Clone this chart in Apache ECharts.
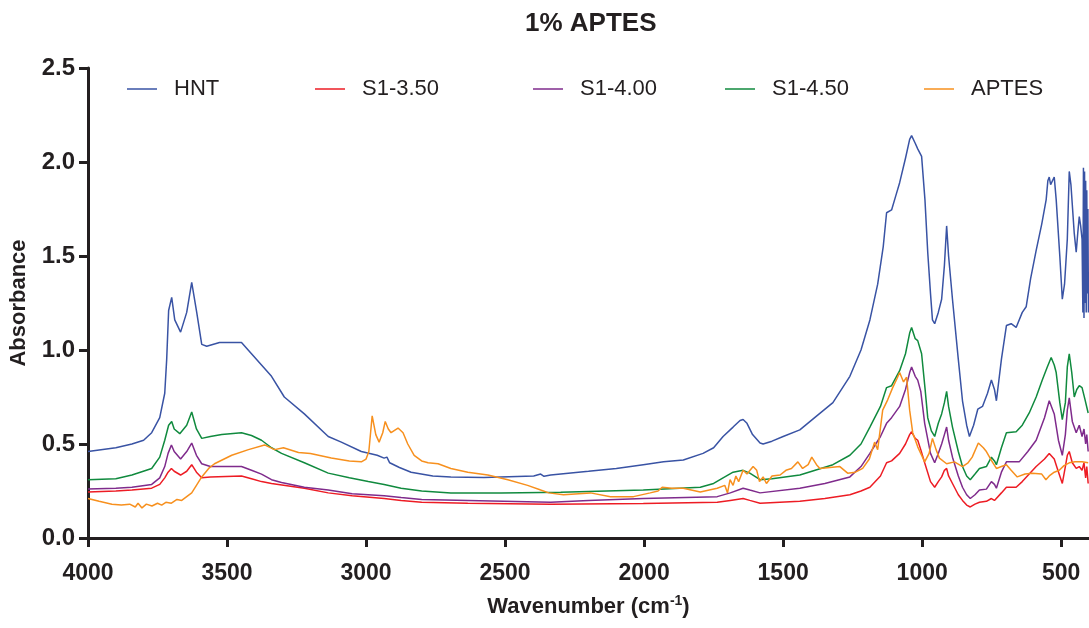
<!DOCTYPE html>
<html>
<head>
<meta charset="utf-8">
<title>1% APTES</title>
<script src="https://cdn.jsdelivr.net/npm/echarts@6/dist/echarts.min.js"></script>
<style>
    html, body {margin: 0; padding: 0; background: #fff;}
    #main {width: 1089px; height: 628px;}
</style>
</head>
<body>
<div id="main"></div>
<script>
// wavenumbers (cm-1) and absorbance
var hntWn = [4000, 3900, 3842, 3800, 3771, 3742, 3724, 3717, 3710, 3699, 3688, 3667, 3645, 3627, 3609, 3591, 3573, 3527, 3448, 3412, 3340, 3294, 3222, 3136, 3089, 3017, 2960, 2935, 2925, 2915, 2880, 2838, 2760, 2695, 2576, 2397, 2372, 2360, 2336, 2200, 2100, 2003, 1930, 1859, 1788, 1750, 1716, 1680, 1655, 1644, 1630, 1610, 1583, 1572, 1540, 1500, 1440, 1379, 1321, 1260, 1220, 1188, 1160, 1140, 1128, 1110, 1095, 1081, 1060, 1045, 1038, 1025, 1016, 1002, 990, 980, 970, 963, 955, 942, 930, 920, 912, 905, 891, 870, 855, 840, 830, 815, 800, 783, 765, 751, 740, 733, 715, 697, 680, 662, 640, 626, 610, 590, 570, 554, 548, 543, 538, 532, 525, 518, 505, 496, 488, 478, 471, 465, 453, 446, 440, 435, 430, 425, 422, 420, 418, 416, 414, 412, 410, 408, 406, 404, 402];
var hntAbs = [0.46, 0.48, 0.50, 0.52, 0.56, 0.64, 0.77, 0.95, 1.21, 1.28, 1.16, 1.095, 1.20, 1.36, 1.20, 1.03, 1.02, 1.04, 1.04, 0.98, 0.86, 0.75, 0.66, 0.54, 0.51, 0.46, 0.44, 0.425, 0.43, 0.40, 0.375, 0.35, 0.33, 0.325, 0.322, 0.33, 0.34, 0.328, 0.335, 0.355, 0.37, 0.39, 0.405, 0.415, 0.45, 0.48, 0.54, 0.59, 0.625, 0.63, 0.61, 0.55, 0.505, 0.50, 0.515, 0.54, 0.575, 0.65, 0.72, 0.86, 1.0, 1.16, 1.35, 1.55, 1.73, 1.745, 1.82, 1.89, 2.02, 2.12, 2.14, 2.10, 2.07, 2.03, 1.80, 1.52, 1.30, 1.16, 1.14, 1.20, 1.27, 1.45, 1.66, 1.50, 1.27, 0.95, 0.73, 0.60, 0.54, 0.60, 0.685, 0.70, 0.77, 0.84, 0.79, 0.73, 0.95, 1.13, 1.14, 1.12, 1.20, 1.23, 1.38, 1.53, 1.67, 1.80, 1.90, 1.92, 1.88, 1.87, 1.92, 1.80, 1.50, 1.27, 1.35, 1.59, 1.95, 1.88, 1.62, 1.52, 1.63, 1.71, 1.66, 1.59, 1.20, 1.97, 1.17, 1.95, 1.25, 1.90, 1.20, 1.85, 1.30, 1.75, 1.20];

var s350Wn = [4000, 3900, 3842, 3771, 3742, 3724, 3712, 3700, 3690, 3667, 3645, 3627, 3610, 3591, 3560, 3448, 3412, 3376, 3340, 3222, 3136, 3050, 2935, 2874, 2800, 2634, 2336, 2003, 1737, 1690, 1644, 1620, 1583, 1440, 1350, 1260, 1220, 1188, 1150, 1128, 1110, 1081, 1060, 1045, 1038, 1025, 1016, 1005, 991, 970, 955, 942, 930, 920, 912, 905, 891, 870, 855, 840, 827, 810, 794, 769, 751, 740, 733, 715, 697, 662, 640, 615, 590, 560, 543, 536, 525, 514, 496, 485, 478, 471, 460, 446, 435, 425, 418, 412, 408, 403];
var s350Abs = [0.245, 0.25, 0.255, 0.265, 0.285, 0.32, 0.35, 0.37, 0.355, 0.335, 0.355, 0.39, 0.35, 0.32, 0.325, 0.33, 0.315, 0.30, 0.29, 0.265, 0.24, 0.225, 0.21, 0.20, 0.19, 0.185, 0.18, 0.183, 0.19, 0.20, 0.21, 0.20, 0.185, 0.195, 0.21, 0.23, 0.25, 0.27, 0.33, 0.40, 0.41, 0.45, 0.50, 0.55, 0.565, 0.53, 0.52, 0.47, 0.40, 0.30, 0.27, 0.30, 0.325, 0.36, 0.37, 0.33, 0.29, 0.23, 0.20, 0.175, 0.165, 0.18, 0.19, 0.195, 0.21, 0.20, 0.19, 0.24, 0.27, 0.27, 0.30, 0.34, 0.38, 0.42, 0.45, 0.455, 0.42, 0.37, 0.29, 0.38, 0.44, 0.46, 0.40, 0.37, 0.38, 0.36, 0.40, 0.32, 0.38, 0.29];

var s400Wn = [4000, 3900, 3842, 3771, 3742, 3724, 3712, 3700, 3690, 3667, 3645, 3627, 3610, 3591, 3560, 3448, 3412, 3376, 3340, 3304, 3222, 3136, 3050, 2935, 2874, 2800, 2634, 2336, 2200, 2003, 1737, 1690, 1644, 1620, 1583, 1440, 1350, 1260, 1220, 1188, 1150, 1128, 1110, 1081, 1060, 1045, 1038, 1025, 1016, 1005, 991, 970, 955, 942, 930, 920, 912, 905, 891, 870, 855, 840, 827, 810, 794, 769, 751, 740, 733, 715, 697, 651, 620, 590, 560, 543, 536, 525, 510, 496, 485, 478, 471, 460, 446, 435, 425, 418, 412, 408, 403];
var s400Abs = [0.26, 0.265, 0.27, 0.285, 0.32, 0.38, 0.45, 0.495, 0.46, 0.42, 0.46, 0.505, 0.44, 0.395, 0.38, 0.38, 0.36, 0.34, 0.31, 0.295, 0.27, 0.255, 0.235, 0.225, 0.215, 0.205, 0.20, 0.19, 0.20, 0.21, 0.22, 0.24, 0.265, 0.255, 0.24, 0.265, 0.29, 0.325, 0.38, 0.45, 0.54, 0.61, 0.64, 0.70, 0.79, 0.88, 0.91, 0.86, 0.84, 0.78, 0.61, 0.45, 0.40, 0.45, 0.50, 0.55, 0.59, 0.52, 0.43, 0.33, 0.27, 0.23, 0.21, 0.23, 0.255, 0.26, 0.30, 0.285, 0.265, 0.35, 0.405, 0.405, 0.46, 0.52, 0.64, 0.73, 0.74, 0.66, 0.52, 0.44, 0.55, 0.68, 0.745, 0.62, 0.56, 0.60, 0.54, 0.58, 0.50, 0.55, 0.46];

var s450Wn = [4000, 3900, 3842, 3771, 3742, 3724, 3710, 3699, 3690, 3670, 3645, 3627, 3610, 3591, 3560, 3519, 3448, 3412, 3376, 3340, 3304, 3222, 3136, 3060, 2992, 2935, 2874, 2800, 2695, 2515, 2300, 2003, 1798, 1750, 1716, 1680, 1644, 1620, 1583, 1540, 1440, 1321, 1260, 1220, 1188, 1150, 1128, 1110, 1081, 1060, 1045, 1038, 1025, 1016, 1002, 990, 980, 967, 955, 942, 930, 920, 912, 905, 891, 870, 855, 840, 827, 810, 794, 769, 751, 740, 733, 715, 697, 662, 640, 615, 590, 568, 550, 536, 525, 518, 505, 496, 485, 478, 471, 462, 453, 444, 435, 425, 415, 403];
var s450Abs = [0.31, 0.315, 0.335, 0.37, 0.43, 0.52, 0.60, 0.62, 0.58, 0.555, 0.60, 0.67, 0.58, 0.53, 0.54, 0.55, 0.56, 0.545, 0.52, 0.48, 0.45, 0.40, 0.345, 0.32, 0.30, 0.285, 0.265, 0.25, 0.24, 0.24, 0.243, 0.255, 0.27, 0.29, 0.32, 0.35, 0.36, 0.345, 0.31, 0.315, 0.335, 0.39, 0.44, 0.50, 0.59, 0.70, 0.80, 0.81, 0.89, 0.98, 1.09, 1.12, 1.06, 1.05, 0.98, 0.80, 0.64, 0.57, 0.54, 0.61, 0.66, 0.72, 0.78, 0.70, 0.59, 0.46, 0.38, 0.33, 0.31, 0.34, 0.37, 0.38, 0.43, 0.41, 0.39, 0.48, 0.56, 0.565, 0.60, 0.665, 0.75, 0.84, 0.91, 0.96, 0.92, 0.88, 0.72, 0.63, 0.72, 0.91, 0.98, 0.88, 0.75, 0.79, 0.81, 0.80, 0.74, 0.665];

var aptesWn = [4000, 3960, 3914, 3880, 3850, 3830, 3820, 3806, 3790, 3770, 3750, 3735, 3720, 3700, 3680, 3663, 3645, 3627, 3610, 3591, 3566, 3545, 3483, 3423, 3365, 3329, 3297, 3243, 3200, 3125, 3060, 3017, 3000, 2990, 2978, 2965, 2953, 2940, 2931, 2920, 2910, 2885, 2867, 2850, 2827, 2800, 2777, 2741, 2695, 2634, 2562, 2490, 2419, 2372, 2343, 2290, 2193, 2121, 2038, 1978, 1950, 1935, 1900, 1859, 1798, 1737, 1710, 1700, 1691, 1680, 1670, 1660, 1644, 1630, 1608, 1595, 1585, 1572, 1560, 1540, 1511, 1490, 1470, 1447, 1430, 1410, 1397, 1380, 1368, 1296, 1268, 1240, 1214, 1190, 1171, 1160, 1142, 1124, 1106, 1090, 1081, 1067, 1056, 1045, 1034, 1016, 991, 975, 963, 950, 938, 912, 884, 855, 835, 820, 798, 780, 769, 750, 733, 715, 697, 680, 658, 630, 604, 570, 555, 543, 525, 507, 490, 471, 450, 425, 403];
var aptesAbs = [0.21, 0.195, 0.18, 0.175, 0.18, 0.165, 0.185, 0.16, 0.18, 0.17, 0.185, 0.175, 0.19, 0.185, 0.205, 0.20, 0.22, 0.24, 0.28, 0.325, 0.37, 0.395, 0.44, 0.47, 0.495, 0.47, 0.48, 0.455, 0.45, 0.425, 0.41, 0.405, 0.42, 0.46, 0.65, 0.55, 0.51, 0.56, 0.62, 0.58, 0.56, 0.585, 0.56, 0.50, 0.44, 0.41, 0.40, 0.395, 0.37, 0.35, 0.335, 0.31, 0.28, 0.255, 0.24, 0.23, 0.24, 0.22, 0.22, 0.24, 0.25, 0.27, 0.265, 0.265, 0.245, 0.265, 0.28, 0.24, 0.31, 0.28, 0.33, 0.30, 0.36, 0.34, 0.38, 0.36, 0.30, 0.325, 0.29, 0.33, 0.335, 0.36, 0.37, 0.405, 0.37, 0.39, 0.43, 0.39, 0.37, 0.38, 0.345, 0.35, 0.37, 0.42, 0.51, 0.47, 0.68, 0.735, 0.80, 0.85, 0.88, 0.83, 0.855, 0.68, 0.56, 0.485, 0.405, 0.45, 0.53, 0.47, 0.425, 0.395, 0.405, 0.38, 0.40, 0.43, 0.505, 0.48, 0.46, 0.41, 0.37, 0.38, 0.39, 0.36, 0.325, 0.34, 0.345, 0.34, 0.31, 0.33, 0.35, 0.36, 0.385, 0.40, 0.405, 0.405, 0.40];

var seriesNames = ['HNT', 'S1-3.50', 'S1-4.00', 'S1-4.50', 'APTES'];
var seriesColors = ['#3953a4', '#ed1c24', '#7f2b8c', '#108a3e', '#f7901e'];
var xTicks = [500, 1000, 1500, 2000, 2500, 3000, 3500, 4000];
var legendLeft = [122, 310, 528, 720, 919];

var fontName = '"Liberation Sans", Arial, Helvetica, sans-serif';
var ink = '#231f20';

function pair(wn, abs) {
    var res = [];
    for (var i = 0; i < wn.length; i++) {
        res.push([wn[i], abs[i]]);
    }
    return res;
}

function loadChart() {
    var myChart = echarts.init(document.getElementById('main'), null, {renderer: 'canvas'});
    var allData = [pair(hntWn, hntAbs), pair(s350Wn, s350Abs), pair(s400Wn, s400Abs), pair(s450Wn, s450Abs), pair(aptesWn, aptesAbs)];

    var series = [];
    var legends = [];
    for (var i = 0; i < seriesNames.length; i++) {
        series.push({
            name: seriesNames[i],
            type: 'line',
            data: allData[i],
            showSymbol: false,
            symbol: 'none',
            lineStyle: {width: 1.5, color: seriesColors[i]},
            itemStyle: {color: seriesColors[i]}
        });
        // one legend per item so the spacing follows the figure
        legends.push({
            data: [seriesNames[i]],
            left: legendLeft[i],
            top: 73,
            icon: 'rect',
            itemWidth: 30,
            itemHeight: 1.5,
            textStyle: {
                fontFamily: fontName,
                fontSize: 22,
                color: ink,
                padding: [0, 0, 0, 12]
            }
        });
    }

    myChart.setOption({
        animation: false,
        title: {
            text: '1% APTES',
            left: 520,
            top: 6,
            textStyle: {
                fontFamily: fontName,
                fontSize: 26,
                fontWeight: 'bold',
                color: ink
            }
        },
        legend: legends,
        grid: {
            left: 86,
            right: 0,
            top: 68,
            bottom: 90,
            containLabel: false
        },
        xAxis: {
            type: 'value',
            inverse: true,
            min: 400,
            max: 4000,
            name: 'Wavenumber (cm{sup|-1})',
            nameLocation: 'middle',
            nameGap: 56,
            nameTextStyle: {
                fontFamily: fontName,
                fontSize: 22,
                fontWeight: 'bold',
                color: ink,
                rich: {
                    sup: {
                        fontFamily: fontName,
                        fontSize: 14,
                        fontWeight: 'bold',
                        color: ink,
                        padding: [0, 0, 12, 0]
                    }
                }
            },
            axisLine: {lineStyle: {color: ink, width: 3}},
            axisTick: {
                customValues: xTicks,
                length: 9,
                lineStyle: {color: ink, width: 3}
            },
            axisLabel: {
                customValues: xTicks,
                margin: 24,
                fontFamily: fontName,
                fontSize: 23,
                fontWeight: 'bold',
                color: ink,
                formatter: function (v) {
                    return String(v);
                }
            },
            splitLine: {show: false}
        },
        yAxis: {
            type: 'value',
            min: 0,
            max: 2.5,
            interval: 0.5,
            name: 'Absorbance',
            nameLocation: 'middle',
            nameGap: 58,
            nameTextStyle: {
                fontFamily: fontName,
                fontSize: 22,
                fontWeight: 'bold',
                color: ink
            },
            axisLine: {show: true, lineStyle: {color: ink, width: 3}},
            axisTick: {show: true, length: 9, lineStyle: {color: ink, width: 3}},
            axisLabel: {
                margin: 13,
                fontFamily: fontName,
                fontSize: 24,
                fontWeight: 'bold',
                color: ink,
                formatter: function (v) {
                    return v.toFixed(1);
                }
            },
            splitLine: {show: false}
        },
        series: series
    });
}

loadChart();
</script>
</body>
</html>
